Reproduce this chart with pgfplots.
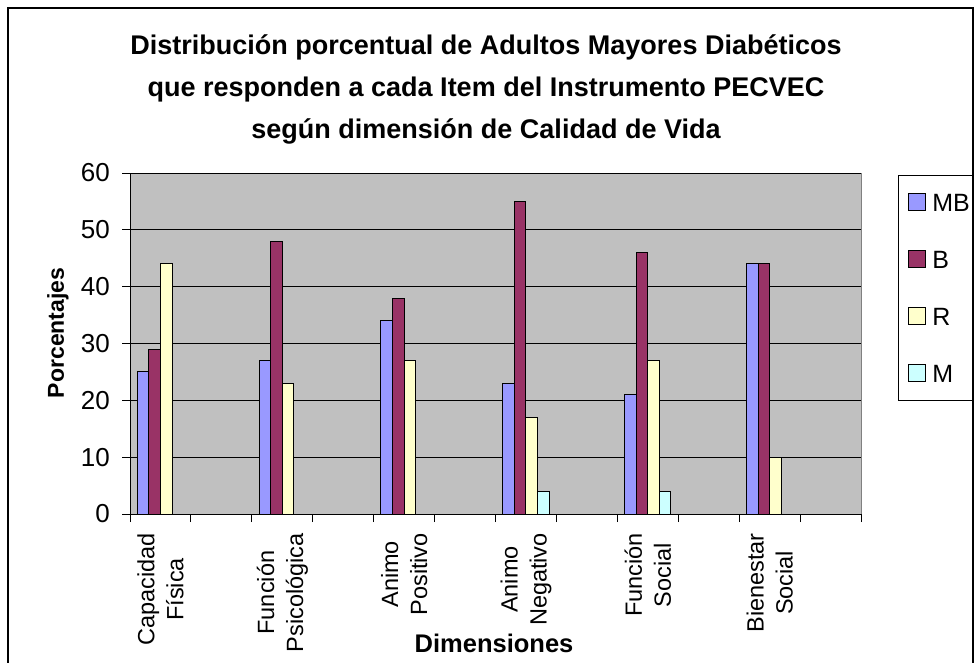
\documentclass[border=0pt]{standalone}
\usepackage{pgfplots}
\pgfplotsset{compat=1.18}
\usepackage{fontspec}
\setmainfont{Liberation Sans}
\definecolor{cMB}{HTML}{9999FF}
\definecolor{cB}{HTML}{993366}
\definecolor{cR}{HTML}{FFFFCC}
\definecolor{cM}{HTML}{CCFFFF}
\definecolor{plotbg}{HTML}{C0C0C0}
\begin{document}
\begin{tikzpicture}[x=1pt,y=1pt]
\path[use as bounding box] (0,0) rectangle (975,662);
\begin{scope}
\clip (0,0) rectangle (975,662);
\draw[line width=1.3pt] (8,-10) -- (8,654) -- (973,654) -- (973,-10);
\end{scope}
\node[anchor=base,font=\fontsize{27}{30}\selectfont\bfseries] at (486,607) {Distribución porcentual de Adultos Mayores Diabéticos};
\node[anchor=base,font=\fontsize{27}{30}\selectfont\bfseries] at (486,565) {que responden a cada Item del Instrumento PECVEC};
\node[anchor=base,font=\fontsize{27}{30}\selectfont\bfseries] at (486,523) {según dimensión de Calidad de Vida};
\begin{axis}[
  at={(130pt,148pt)}, anchor=south west,
  scale only axis, width=731pt, height=341pt,
  xmin=-0.5, xmax=11.5, ymin=0, ymax=60,
  ybar, bar width=0.19,
  axis background/.style={fill=plotbg, draw=gray},
  axis lines=left, axis line style={-, black, line width=1pt},
  ymajorgrids, grid style={black, line width=0.8pt},
  ytick={0,10,...,60},
  xtick={0,2,4,6,8,10},
  xticklabels={{Capacidad\\Física},{Función\\Psicológica},{Animo\\Positivo},{Animo\\Negativo},{Función\\Social},{Bienestar\\Social}},
  minor xtick={-0.5,0.5,...,11.5},
  every major x tick/.append style={draw=none},
  every minor x tick/.append style={black, line width=1pt},
  major tick length=8pt, minor tick length=8pt,
  tick align=outside,
  ytick style={black, line width=1pt},
  /pgf/number format/assume math mode=true,
  yticklabel style={font=\fontsize{26}{28}\selectfont, inner xsep=12pt},
  xticklabel style={font=\fontsize{23.5}{29}\selectfont, rotate=90, anchor=east, align=center, inner xsep=11pt, inner ysep=2pt},
  xlabel={Dimensiones},
  xlabel style={font=\fontsize{25.5}{28}\selectfont\bfseries, at={(axis description cs:0.498,-0.4076)}, anchor=base},
  ylabel={Porcentajes},
  ylabel style={font=\fontsize{23}{28}\selectfont\bfseries, at={(axis description cs:-0.0903,0.531)}, anchor=base, rotate=0},
  legend image code/.code={\path (0pt,0pt); \draw[#1, draw=black, line width=1pt] (9pt,-8.5pt) rectangle (26pt,8.5pt);},
  legend style={at={(axis description cs:1.0506,0.994)}, anchor=north west, draw=black, line width=0.8pt, fill=white,
    inner xsep=1pt, inner ysep=16pt, row sep=35pt, column sep=4pt,
    nodes={font=\fontsize{25}{28}\selectfont, inner sep=2pt, text height=18pt, text depth=0pt}},
  legend cell align=left,
]
\addplot[fill=cMB, draw=black, line width=1pt, bar shift=-0.285] coordinates {(0,25) (2,27) (4,34) (6,23) (8,21) (10,44)};
\addplot[fill=cB, draw=black, line width=1pt, bar shift=-0.095] coordinates {(0,29) (2,48) (4,38) (6,55) (8,46) (10,44)};
\addplot[fill=cR, draw=black, line width=1pt, bar shift=0.095] coordinates {(0,44) (2,23) (4,27) (6,17) (8,27) (10,10)};
\addplot[fill=cM, draw=black, line width=1pt, bar shift=0.285] coordinates {(6,4) (8,4)};
\legend{MB,B,R,M}
\end{axis}
\end{tikzpicture}
\end{document}
